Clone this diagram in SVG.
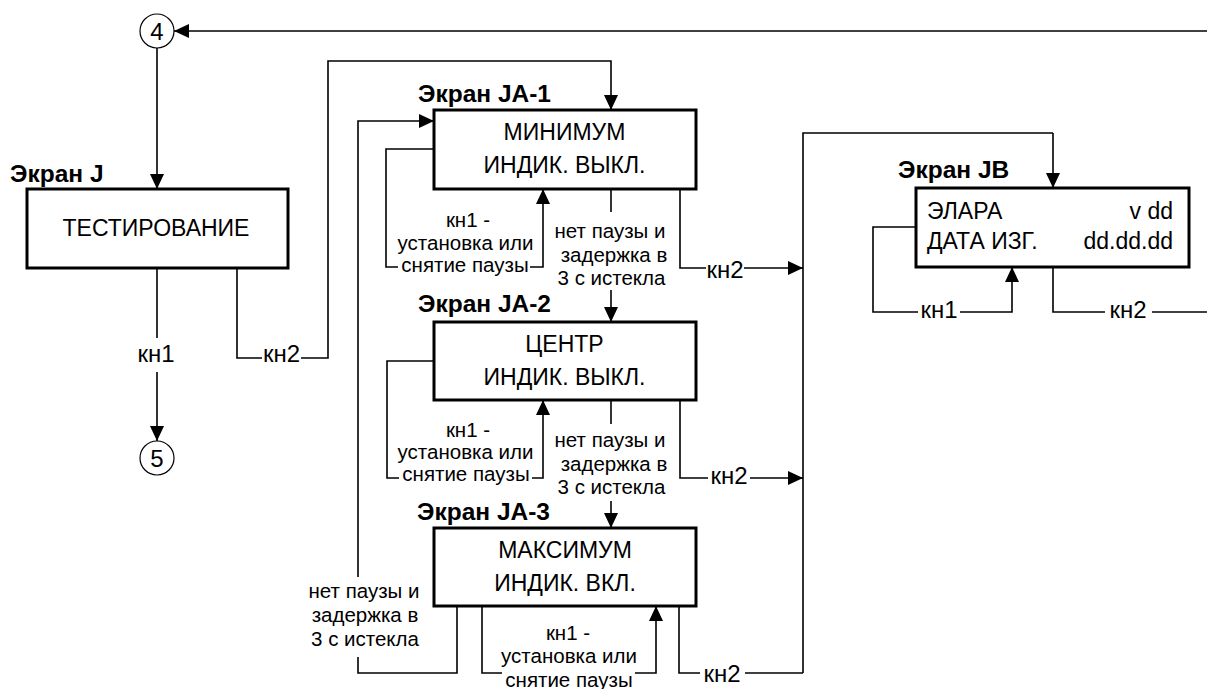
<svg xmlns="http://www.w3.org/2000/svg" width="1207" height="689" viewBox="0 0 1207 689">
<defs>
<marker id="ah" viewBox="0 0 15 14" refX="15" refY="7" markerWidth="15" markerHeight="14" markerUnits="userSpaceOnUse" orient="auto">
<path d="M0,0 L15,7 L0,14 z" fill="#000"/>
</marker>
<style>
.box{fill:#fff;stroke:#000;stroke-width:3}
.ln{fill:none;stroke:#000;stroke-width:1.6}
.ar{fill:none;stroke:#000;stroke-width:1.6;marker-end:url(#ah)}
.t{font-family:"Liberation Sans",Arial,sans-serif;font-size:23px;fill:#000;text-anchor:middle}
.s{font-family:"Liberation Sans",Arial,sans-serif;font-size:20.5px;fill:#000;text-anchor:middle}
.k{font-family:"Liberation Sans",Arial,sans-serif;font-size:24px;fill:#000;text-anchor:middle}
.h{font-family:"Liberation Sans",Arial,sans-serif;font-size:24.5px;font-weight:bold;fill:#000}
.n{font-family:"Liberation Sans",Arial,sans-serif;font-size:24px;fill:#000;text-anchor:middle}
.c{fill:#fff;stroke:#000;stroke-width:1.2}
</style>
</defs>
<g id="connectors">
<path class="ar" d="M1207,31 L174,31"/>
<path class="ar" d="M157,48 L157,189"/>
<path class="ln" d="M157,268 L157,338"/>
<path class="ar" d="M157,372 L157,441"/>
<path class="ln" d="M237,268 L237,358 L262,358"/>
<path class="ar" d="M301,358 L328,358 L328,61 L611,61 L611,110"/>
<text class="k" x="156" y="362">кн1</text>
<text class="k" x="281.5" y="362">кн2</text>
<!-- JA-1 -->
<path class="ln" d="M434,149 L386,149 L386,267 L398,267"/>
<path class="ar" d="M530,267 L543,267 L543,189"/>
<text class="s" x="468" y="227">кн1 -</text>
<text class="s" x="465.5" y="250">установка или</text>
<text class="s" x="465" y="272">снятие паузы</text>
<path class="ln" d="M611,189 L611,212"/>
<text class="s" x="610" y="238">нет паузы и</text>
<text class="s" x="614" y="262">задержка в</text>
<text class="s" x="611.5" y="285">3 с истекла</text>
<path class="ar" d="M611,290 L611,322"/>
<path class="ln" d="M680,189 L680,268 L706,268"/>
<text class="k" x="725" y="278">кн2</text>
<path class="ar" d="M744,268 L803,268"/>
<path class="ln" d="M803,673 L803,133 L1053,133"/>
<path class="ar" d="M1053,133 L1053,188"/>
<!-- JA-2 -->
<path class="ln" d="M434,361 L387,361 L387,478 L399,478"/>
<path class="ar" d="M532,478 L543,478 L543,400"/>
<text class="s" x="468" y="437">кн1 -</text>
<text class="s" x="465.5" y="459">установка или</text>
<text class="s" x="466" y="481">снятие паузы</text>
<path class="ln" d="M611,400 L611,424"/>
<text class="s" x="610" y="447">нет паузы и</text>
<text class="s" x="614" y="471">задержка в</text>
<text class="s" x="611.5" y="494">3 с истекла</text>
<path class="ar" d="M611,501 L611,528"/>
<path class="ln" d="M680,400 L680,478 L708,478"/>
<text class="k" x="729" y="484">кн2</text>
<path class="ar" d="M750,478 L803,478"/>
<!-- JA-3 -->
<path class="ln" d="M457,606 L457,673 L358,673 L358,657"/>
<path class="ar" d="M358,577 L358,121 L434,121"/>
<text class="s" x="364" y="598">нет паузы и</text>
<text class="s" x="365" y="622">задержка в</text>
<text class="s" x="365" y="646">3 с истекла</text>
<path class="ln" d="M482,606 L482,673 L502,673"/>
<path class="ar" d="M635,673 L656,673 L656,606"/>
<text class="s" x="568" y="640">кн1 -</text>
<text class="s" x="569" y="663">установка или</text>
<text class="s" x="569" y="687">снятие паузы</text>
<path class="ln" d="M679,606 L679,673 L700,673"/>
<text class="k" x="722" y="682">кн2</text>
<path class="ln" d="M745,673 L803,673"/>
<!-- JB -->
<path class="ln" d="M916,227 L873,227 L873,312 L918,312"/>
<text class="k" x="939" y="318">кн1</text>
<path class="ar" d="M960,312 L1012,312 L1012,267"/>
<path class="ln" d="M1053,267 L1053,312 L1105,312"/>
<text class="k" x="1128" y="318">кн2</text>
<path class="ln" d="M1152,312 L1207,312"/>
</g>
<g id="c4"><circle class="c" cx="157" cy="31" r="17"/><text class="n" x="157" y="39.5">4</text></g>
<g id="c5"><circle class="c" cx="157" cy="458" r="17"/><text class="n" x="157" y="466.5">5</text></g>
<g id="J">
<text class="h" x="10" y="182">Экран J</text>
<rect class="box" x="27" y="189" width="261" height="79"/>
<text class="t" x="156" y="236">ТЕСТИРОВАНИЕ</text>
</g>
<g id="JA1">
<text class="h" x="418" y="102">Экран JA-1</text>
<rect class="box" x="434" y="110" width="262" height="79"/>
<text class="t" x="564.5" y="140">МИНИМУМ</text>
<text class="t" x="564.5" y="173">ИНДИК. ВЫКЛ.</text>
</g>
<g id="JA2">
<text class="h" x="418" y="312">Экран JA-2</text>
<rect class="box" x="434" y="322" width="262" height="78"/>
<text class="t" x="564.5" y="352">ЦЕНТР</text>
<text class="t" x="564.5" y="385">ИНДИК. ВЫКЛ.</text>
</g>
<g id="JA3">
<text class="h" x="417" y="520">Экран JA-3</text>
<rect class="box" x="434" y="528" width="262" height="78"/>
<text class="t" x="565" y="558">МАКСИМУМ</text>
<text class="t" x="565" y="591">ИНДИК. ВКЛ.</text>
</g>
<g id="JB">
<text class="h" x="898" y="178">Экран JB</text>
<rect class="box" x="916" y="188" width="273" height="79"/>
<text class="t" x="927" y="219" style="text-anchor:start">ЭЛАРА</text>
<text class="t" x="1173" y="219" style="text-anchor:end">v dd</text>
<text class="t" x="927" y="249" style="text-anchor:start">ДАТА ИЗГ.</text>
<text class="t" x="1173" y="249" style="text-anchor:end">dd.dd.dd</text>
</g>
</svg>
